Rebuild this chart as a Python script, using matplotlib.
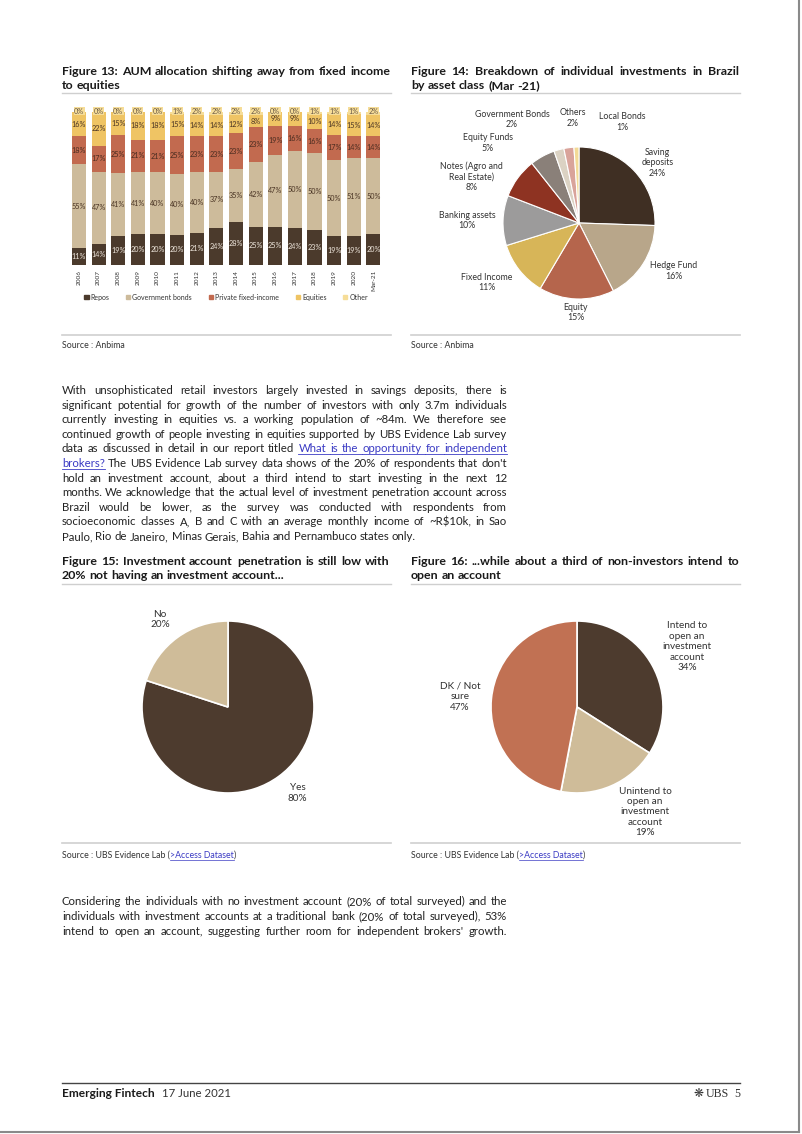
import matplotlib
matplotlib.use('Agg')

import numpy as np
import matplotlib.pyplot as plt
from matplotlib import font_manager
from matplotlib.lines import Line2D
from matplotlib.patches import Patch

W, H = 802, 1134


def pick_font(cands):
    for c in cands:
        try:
            font_manager.findfont(c, fallback_to_default=False)
            return c
        except ValueError:
            pass
    return 'DejaVu Sans'


FONT = pick_font(['Lato', 'Open Sans', 'Noto Sans'])
plt.rcParams['font.family'] = [FONT, 'DejaVu Sans']

# ================== DATA ==================
years = ['2006', '2007', '2008', '2009', '2010', '2011', '2012', '2013',
         '2014', '2015', '2016', '2017', '2018', '2019', '2020', 'Mar-21']
repos = [11, 14, 19, 20, 20, 20, 21, 24, 28, 25, 25, 24, 23, 19, 19, 20]
gov_bonds = [55, 47, 41, 41, 40, 40, 40, 37, 35, 42, 47, 50, 50, 50, 51, 50]
private_fi = [18, 17, 25, 21, 21, 25, 23, 23, 23, 23, 19, 16, 16, 17, 14, 14]
equities = [16, 22, 15, 18, 18, 15, 14, 14, 12, 8, 9, 9, 10, 14, 15, 14]
other = [0, 0, 0, 0, 0, 1, 2, 2, 2, 2, 0, 0, 1, 1, 1, 2]
series_names = ['Repos', 'Government bonds', 'Private fixed-income', 'Equities', 'Other']

asset_labels = ['Saving\ndeposits', 'Hedge Fund', 'Equity', 'Fixed Income',
                'Banking assets', 'Notes (Agro and\nReal Estate)', 'Equity Funds',
                'Government Bonds', 'Others', 'Local Bonds']
asset_share = [24, 16, 15, 11, 10, 8, 5, 2, 2, 1]

acct_labels = ['Yes', 'No']
acct_share = [80, 20]

intent_labels = ['Intend to\nopen an\ninvestment\naccount',
                 'Unintend to\nopen an\ninvestment\naccount',
                 'DK / Not\nsure']
intent_share = [34, 19, 47]

# ================== STYLE / LAYOUT ==================
bar_colors = ['#4b3a2c', '#cdbb9b', '#c26a4f', '#efc464', '#f6dd98']
bar_text = ['#eee6dc', '#4a3424', '#4a2c20', '#4a3424', '#6a5a48']
asset_colors = ['#3f2f23', '#b8a68a', '#b5654c', '#d7b558', '#9c9b9b',
                '#8e3322', '#8a8079', '#dbd2c3', '#d9a39a', '#f3da96']
# label centres, in pie-radius units
asset_lab_pos = [(1.03, 0.79), (1.25, -0.63), (-0.04, -1.18), (-1.21, -0.78),
                 (-1.47, 0.03), (-1.41, 0.61), (-1.20, 1.05), (-0.88, 1.36),
                 (-0.08, 1.38), (0.57, 1.33)]
acct_colors = ['#4d3b2e', '#cfbc99']
acct_lab_pos = [(0.81, -1.0), (-0.79, 1.02)]
intent_colors = ['#4d3b2e', '#cfbc99', '#c17153']
intent_lab_pos = [(1.28, 0.70), (0.79, -1.22), (-1.36, 0.12)]

INK = '#222222'
LINK = '#3b3bc4'
RULE = '#cfcfcf'

fig = plt.figure(figsize=(W / 100, H / 100), dpi=100)
fig.patch.set_facecolor('white')
renderer = fig.canvas.get_renderer()


def hline(x0, x1, y, color, lw):
    fig.add_artist(Line2D([x0 / W, x1 / W], [1 - y / H] * 2, color=color, lw=lw))


def text_w(s, size, weight='normal'):
    t = fig.text(0, 0, s, fontsize=size, weight=weight)
    w = t.get_window_extent(renderer).width
    t.remove()
    return w


def split_words(line):
    if isinstance(line, str):
        line = [(line, False)]
    words = []
    for seg, link in line:
        words += [(w, link) for w in seg.split()]
    return words


def fit_size(lines, width, weight='normal', ref=10.0):
    sp = text_w('a a', ref, weight) - text_w('aa', ref, weight)
    best = 99
    for line in lines:
        words = split_words(line)
        nat = sum(text_w(w, ref, weight) for w, _ in words) + sp * (len(words) - 1)
        best = min(best, ref * width / nat)
    return best * 0.995


def draw_par(lines, x0, base0, lh, width, size, justify, weight='normal', color=INK):
    sp = text_w('a a', size, weight) - text_w('aa', size, weight)
    for i, line in enumerate(lines):
        words = split_words(line)
        ws = [text_w(w, size, weight) for w, _ in words]
        gap = sp
        if justify[i] and len(words) > 1:
            gap = (width - sum(ws)) / (len(words) - 1)
        yb = base0 + i * lh
        x = x0
        for k, ((w, link), ww) in enumerate(zip(words, ws)):
            fig.text(x / W, 1 - yb / H, w, fontsize=size, weight=weight,
                     color=LINK if link else color, va='baseline', ha='left')
            if link:
                x_end = x + ww
                if k + 1 < len(words) and words[k + 1][1]:
                    x_end += gap
                hline(x, x_end, yb + 1.8, LINK, 0.6)
            x += ww + gap


def source_line(x0, y, parts, size):
    x = x0
    for s, link in parts:
        fig.text(x / W, 1 - y / H, s, fontsize=size, color=LINK if link else '#333333',
                 va='baseline', ha='left')
        w = text_w(s, size)
        if link:
            hline(x, x + w, y + 1.5, LINK, 0.5)
        x += w


# ================== TITLES ==================
titles = [
    (62, 75, ['Figure 13: AUM allocation shifting away from fixed income', 'to equities']),
    (411, 75, ['Figure 14: Breakdown of individual investments in Brazil', 'by asset class (Mar -21)']),
    (62, 565, ['Figure 15: Investment account penetration is still low with',
               '20% not having an investment account...']),
    (411, 565, ['Figure 16: ...while about a third of non-investors intend to', 'open an account']),
]
tsize = fit_size([t[2][0] for t in titles], 328, 'bold')
for x0, yb, lines in titles:
    draw_par(lines, x0, yb, 14, 328, tsize, [True, False], weight='bold', color='#1a1a1a')
for x0 in (62, 411):
    hline(x0, x0 + 329, 92.5, RULE, 1.0)
    hline(x0, x0 + 329, 584, RULE, 1.0)

# ================== FIGURE 13: stacked bars ==================
ax = fig.add_axes([69.2 / W, 1 - 265 / H, 314 / W, 153 / H])
x = np.arange(len(years))
stack = np.array([repos, gov_bonds, private_fi, equities, other], dtype=float)
norm = stack / stack.sum(axis=0) * 100
bottom = np.zeros(len(years))
for i, name in enumerate(series_names):
    ax.bar(x, norm[i], bottom=bottom, width=0.72, color=bar_colors[i], label=name)
    for j in range(len(years)):
        if i < 4:
            ax.text(x[j], bottom[j] + norm[i][j] / 2, f'{stack[i][j]:.0f}%',
                    ha='center', va='center', fontsize=5.2, color=bar_text[i])
        else:
            ax.text(x[j], 100.5, f'{stack[i][j]:.0f}%', ha='center', va='center',
                    fontsize=5.2, color=bar_text[i],
                    bbox=dict(facecolor=bar_colors[4], edgecolor='none', pad=0.3))
    bottom += norm[i]
ax.set_xlim(-0.5, len(years) - 0.5)
ax.set_ylim(0, 100)
ax.set_xticks(x, years, rotation=90, fontsize=4.6, color='#333333')
ax.set_yticks([])
ax.tick_params(length=0, pad=3.5)
for s in ax.spines.values():
    s.set_visible(False)
handles = [Patch(color=c) for c in bar_colors]
leg = ax.legend(handles, series_names, loc='center', bbox_to_anchor=(0.5, -0.21), ncol=5,
                frameon=False, fontsize=5.0, handlelength=0.6, handleheight=0.6,
                handletextpad=0.3, columnspacing=2.4, borderaxespad=0)
for t in leg.get_texts():
    t.set_color('#333333')


# ================== PIES ==================
def pie_panel(cx, cy, R, half, shares, colors, labels, lab_pos, size, lw):
    a = fig.add_axes([(cx - half) / W, 1 - (cy + half) / H, 2 * half / W, 2 * half / H])
    a.pie(shares, colors=colors, startangle=90, counterclock=False,
          wedgeprops=dict(edgecolor='white', linewidth=lw))
    a.set_xlim(-half / R, half / R)
    a.set_ylim(-half / R, half / R)
    a.axis('off')
    for lab, v, (px, py) in zip(labels, shares, lab_pos):
        a.text(px, py, f'{lab}\n{v}%', ha='center', va='center', fontsize=size,
               color='#333333', linespacing=1.2)
    return a


pie_panel(579, 223, 76, 170, asset_share, asset_colors, asset_labels, asset_lab_pos, 6.3, 0.8)
pie_panel(228, 707, 86, 160, acct_share, acct_colors, acct_labels, acct_lab_pos, 7.2, 1.2)
pie_panel(577, 707, 86, 160, intent_share, intent_colors, intent_labels, intent_lab_pos, 7.2, 1.2)

# ================== SOURCES ==================
for x0 in (62, 411):
    hline(x0, x0 + 329, 335, RULE, 1.2)
    hline(x0, x0 + 329, 843, RULE, 1.2)
    source_line(x0, 348, [('Source : Anbima', False)], 6.3)
    source_line(x0, 858, [('Source : UBS Evidence Lab (', False), ('>Access Dataset', True),
                          (')', False)], 6.3)

# ================== BODY TEXT ==================
para1 = [
    'With unsophisticated retail investors largely invested in savings deposits, there is',
    'significant potential for growth of the number of investors with only 3.7m individuals',
    'currently investing in equities vs. a working population of ~84m. We therefore see',
    'continued growth of people investing in equities supported by UBS Evidence Lab survey',
    [('data as discussed in detail in our report titled', False),
     ('What is the opportunity for independent', True)],
    [('brokers?', True),
     ("The UBS Evidence Lab survey data shows of the 20% of respondents that don't", False)],
    'hold an investment account, about a third intend to start investing in the next 12',
    'months. We acknowledge that the actual level of investment penetration account across',
    'Brazil would be lower, as the survey was conducted with respondents from',
    'socioeconomic classes A, B and C with an average monthly income of ~R$10k, in Sao',
    'Paulo, Rio de Janeiro, Minas Gerais, Bahia and Pernambuco states only.',
]
para2 = [
    'Considering the individuals with no investment account (20% of total surveyed) and the',
    'individuals with investment accounts at a traditional bank (20% of total surveyed), 53%',
    "intend to open an account, suggesting further room for independent brokers' growth.",
]
bsize = fit_size(para1[:-1] + para2, 445)
draw_par(para1, 62, 394, 14.6, 445, bsize, [True] * 10 + [False])
draw_par(para2, 62, 905, 14.8, 445, bsize, [True, True, True])

# ================== FOOTER ==================
hline(62, 740, 1083, '#444444', 1.0)
fsize = 10 * 93 / text_w('Emerging Fintech', 10, 'bold')
fig.text(62 / W, 1 - 1097 / H, 'Emerging Fintech', fontsize=fsize, weight='bold',
         color='#1a1a1a', va='baseline')
fig.text(162 / W, 1 - 1097 / H, '17 June 2021', fontsize=fsize * 0.95, color='#333333',
         va='baseline')
fig.text(740 / W, 1 - 1097 / H, '5', fontsize=fsize, color='#333333', va='baseline',
         ha='right', family='Liberation Serif')
fig.text(729 / W, 1 - 1097 / H, 'UBS', fontsize=fsize, color='#333333', va='baseline',
         ha='right', family='Liberation Serif')
fig.text(703 / W, 1 - 1097 / H, '\u274b', fontsize=fsize, color='#333333', va='baseline',
         ha='right', family='DejaVu Sans')

# page edge
hline(0, 799, 1132, '#8a8a8a', 1.5)
fig.add_artist(Line2D([798.5 / W] * 2, [1 - 1132 / H, 1], color='#8a8a8a', lw=1.5))

fig.savefig('out.png', dpi=100, facecolor='white')
plt.close(fig)
